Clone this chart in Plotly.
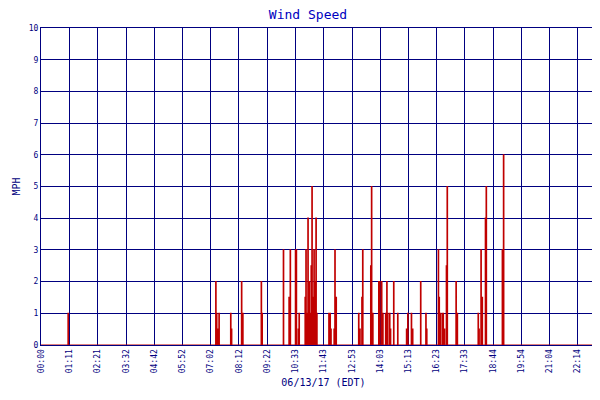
import plotly.graph_objects as go

# spike times (minutes after midnight) and wind speed (MPH)
times = [67, 434, 436, 440, 442, 471, 473, 498, 501, 547, 549, 602, 616, 619, 632, 634, 639, 641,
         656, 658, 661, 663, 666, 668, 671, 673, 676, 678, 681, 683, 685,
         715, 718, 720, 728, 730, 733, 789, 792, 797, 799, 819, 821, 824,
         839, 841, 846, 849, 856, 859, 861, 866, 868, 876, 886, 908, 911, 920, 923, 943,
         956, 958, 987, 989, 992, 997, 999, 1002, 1007, 1009, 1031, 1034,
         1086, 1088, 1093, 1096, 1104, 1106, 1146, 1149]
speeds = [1, 2, 1, 0.5, 1, 1, 0.5, 2, 1, 2, 1, 3, 1.5, 3, 3, 3, 0.5, 1,
          1.5, 3, 1, 4, 2, 1, 2.5, 5, 1.5, 3, 2, 4, 1,
          1, 1, 0.5, 0.5, 3, 1.5, 1, 0.5, 1.5, 3, 2.5, 5, 1,
          2, 2, 2, 1, 1, 2, 1, 1, 0.5, 2, 1, 0.5, 1, 1, 0.5, 2,
          1, 0.5, 3, 1.5, 1, 1, 1, 0.5, 2.5, 5, 2, 1,
          1, 0.5, 3, 1.5, 4, 5, 3, 6]
tick_minutes = [0, 71, 141, 212, 282, 352, 422, 492, 562, 633, 703, 773, 843, 913, 983,
                1053, 1124, 1194, 1264, 1334, 1404]
tick_labels = ["00:00", "01:11", "02:21", "03:32", "04:42", "05:52", "07:02", "08:12", "09:22",
               "10:33", "11:43", "12:53", "14:03", "15:13", "16:23", "17:33", "18:44", "19:54",
               "21:04", "22:14", "23:24"]

xs, ys = [0], [0]
for t, v in zip(times, speeds):
    xs += [t, t, t + 1.2, t + 1.2]
    ys += [0, v, v, 0]
xs.append(1404)
ys.append(0)

navy = "#000080"
fig = go.Figure(go.Scatter(x=xs, y=ys, mode="lines", name="Wind Speed",
                           line=dict(color="#c00000", width=1.2)))
fig.update_layout(
    width=600, height=400, margin=dict(l=33, r=2, t=20, b=63, autoexpand=False),
    paper_bgcolor="white", plot_bgcolor="white",
    font=dict(family="DejaVu Sans Mono", color=navy, size=9),
    title=dict(text="Wind Speed", x=0.5, xanchor="center", y=0.995, yanchor="top",
               font=dict(size=13, color="#0000c0")),
    showlegend=True,
    legend=dict(orientation="h", x=0.5, xanchor="center", y=-0.155, yanchor="top",
                font=dict(size=8, color=navy)),
    xaxis=dict(range=[0, 1404], tickvals=tick_minutes, ticktext=tick_labels, tickangle=-90,
               showgrid=True, gridcolor=navy, gridwidth=1, zeroline=False,
               showline=True, linecolor=navy, mirror=True, linewidth=1,
               tickfont=dict(size=8, color=navy), automargin=False,
               title=dict(text="06/13/17 (EDT)", font=dict(size=10, color=navy), standoff=6)),
    yaxis=dict(range=[0, 10], dtick=1, showgrid=True, gridcolor=navy, gridwidth=1,
               zeroline=False, showline=True, linecolor=navy, mirror=True, linewidth=1,
               tickfont=dict(size=8, color=navy), automargin=False,
               title=dict(text="MPH", font=dict(size=10, color=navy), standoff=6)),
)
fig.write_html("out.html")
